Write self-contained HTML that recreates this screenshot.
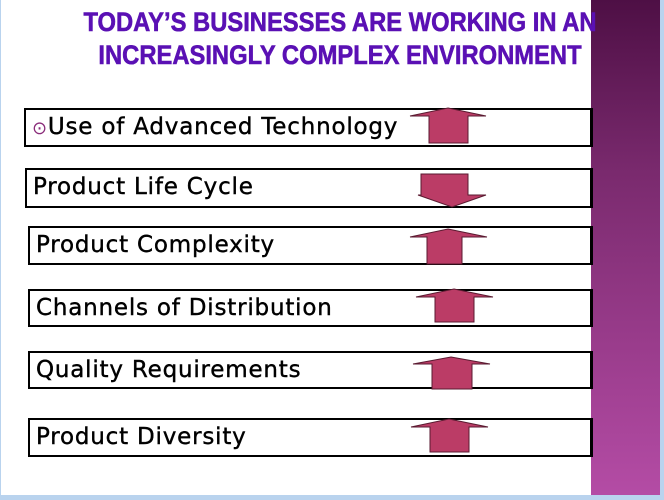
<!DOCTYPE html>
<html><head><meta charset="utf-8"><style>
body{margin:0;width:664px;height:500px;overflow:hidden;background:#fff;position:relative;font-family:"DejaVu Sans","Liberation Sans",sans-serif}
.side{position:absolute;left:591px;top:0;width:69px;height:495px;background:linear-gradient(180deg,#4e0f45 0%,#7a2a6e 35%,#9a3c8c 70%,#b44ca5 100%)}
.rb{position:absolute;left:660px;top:0;width:4px;height:500px;background:#b9d3ee}
.bb{position:absolute;left:0;top:495px;width:664px;height:5px;background:#b9d3ee}
.lb{position:absolute;left:0;top:0;width:1px;height:500px;background:#b9d3ee}
.title{position:absolute;left:40px;top:6px;width:600px;text-align:center;color:#5a10b4;font-family:"Liberation Sans",sans-serif;font-weight:bold;font-size:27px;line-height:33px;transform:scaleX(.88);transform-origin:center;-webkit-text-stroke:0.6px #5a10b4}
.box{position:absolute;border:2px solid #000;border-right:3px solid #000;background:#fff;box-sizing:border-box;font-size:23px;letter-spacing:0.8px;line-height:34px;padding-left:6px;color:#000;-webkit-text-stroke:0.4px #000}
svg{position:absolute;left:0;top:0}
</style></head><body>
<div class="lb"></div>
<div class="side"></div>
<div class="rb"></div>
<div class="bb"></div>
<div class="title">TODAY’S BUSINESSES ARE WORKING IN AN<br>INCREASINGLY COMPLEX ENVIRONMENT</div>
<div class="box" style="left:24px;top:108px;width:569px;height:39px"><span style="color:#8a2c7a;font-size:18px;-webkit-text-stroke:0">⊙</span>Use of Advanced Technology</div>
<div class="box" style="left:25px;top:168px;width:568px;height:40px">Product Life Cycle</div>
<div class="box" style="left:28px;top:226px;width:565px;height:39px">Product Complexity</div>
<div class="box" style="left:28px;top:289px;width:565px;height:38px">Channels of Distribution</div>
<div class="box" style="left:28px;top:351px;width:565px;height:38px">Quality Requirements</div>
<div class="box" style="left:28px;top:418px;width:565px;height:39px">Product Diversity</div>
<svg width="664" height="500">
<g fill="#bb3c66" stroke="#5a1a30" stroke-width="1">
<polygon points="448,108 486,116 468,116 468,143 429,143 429,116 410,116"/>
<polygon points="421,174 468,174 468,195 486,195 452,207 418,195 421,195"/>
<polygon points="448,229 487,237 462,237 462,264 427,264 427,237 410,237"/>
<polygon points="454,289 493,297 474,297 474,322 435,322 435,297 416,297"/>
<polygon points="451,357 490,364 472,364 472,389 432,389 432,364 413,364"/>
<polygon points="449,419 488,427 469,427 469,452 430,452 430,427 411,427"/>
</g></svg>
</body></html>
